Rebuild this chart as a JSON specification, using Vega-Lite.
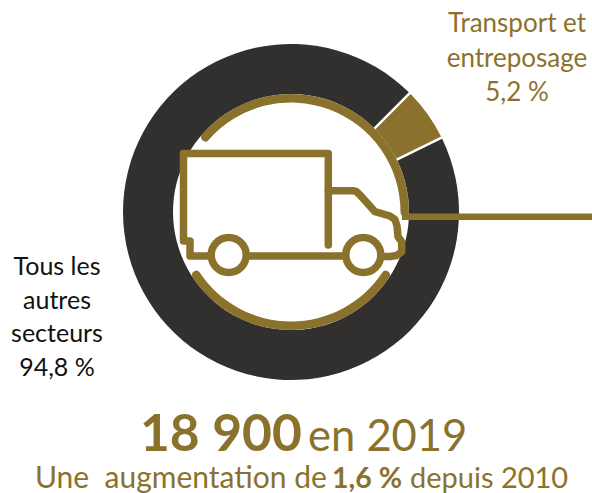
{
"$schema":"https://vega.github.io/schema/vega-lite/v6.json",
"width":592,"height":493,"padding":0,"autosize":{"type":"none"},
"background":"white",
"config":{"view":{"stroke":null},"text":{"font":"Lato"}},
"resolve":{"scale":{"theta":"independent"}},
"layer":[
{"data":{"values":[{"secteur":"Transport et entreposage","part":5.2},{"secteur":"Tous les autres secteurs","part":94.8}]},
 "mark":{"type":"arc","innerRadius":118,"outerRadius":168,"padAngle":0.012},
 "encoding":{"x":{"datum":291,"type":"quantitative","scale":{"domain":[0,592],"nice":false,"zero":false},"axis":null},
  "y":{"datum":212,"type":"quantitative","scale":{"domain":[493,0],"nice":false,"zero":false},"axis":null},
  "theta":{"field":"part","type":"quantitative","stack":true,"scale":{"domain":[0,100],"range":[0.785,7.068]}},
  "order":{"field":"part","sort":"ascending"},
  "color":{"field":"secteur","type":"nominal","legend":null,"scale":{"domain":["Transport et entreposage","Tous les autres secteurs"],"range":["#8B722C","#32302E"]}}}},
{"data":{"values":[{"from":-51,"to":92},{"from":121.5,"to":238.5}]},
 "mark":{"type":"arc","innerRadius":109.5,"outerRadius":118,"cornerRadius":4,"color":"#8B722C"},
 "encoding":{"x":{"datum":291},"y":{"datum":212},
  "theta":{"field":"from","type":"quantitative","stack":null,"scale":{"domain":[0,360],"range":[0,6.28319]}},
  "theta2":{"field":"to"}}},
{"data":{"values":[{"x":402,"y":216.7},{"x":592,"y":216.7}]},
 "mark":{"type":"line","color":"#8B722C","strokeWidth":6.5,"strokeCap":"butt"},
 "encoding":{"x":{"field":"x","type":"quantitative"},"y":{"field":"y","type":"quantitative"}}},
{"data":{"values":[
 {"part":"caisse","i":1,"x":328.3,"y":245},{"part":"caisse","i":2,"x":328.3,"y":153.5},{"part":"caisse","i":3,"x":183.5,"y":153.5},{"part":"caisse","i":4,"x":183.5,"y":241},{"part":"caisse","i":5,"x":190,"y":241},{"part":"caisse","i":6,"x":190,"y":256},{"part":"caisse","i":7,"x":363,"y":256},
 {"part":"cabine","i":1,"x":328.3,"y":190.7},{"part":"cabine","i":2,"x":353,"y":190.7},{"part":"cabine","i":3,"x":356.5,"y":191.7},{"part":"cabine","i":4,"x":360,"y":195},{"part":"cabine","i":5,"x":375,"y":211.7},{"part":"cabine","i":6,"x":390,"y":216},{"part":"cabine","i":7,"x":395,"y":219.5},{"part":"cabine","i":8,"x":397,"y":226},{"part":"cabine","i":9,"x":398,"y":236.7},{"part":"cabine","i":10,"x":401.7,"y":241.7},{"part":"cabine","i":11,"x":401.7,"y":251.7},{"part":"cabine","i":12,"x":396.7,"y":255.5},{"part":"cabine","i":13,"x":390,"y":256.5},{"part":"cabine","i":14,"x":375,"y":256.5}
 ]},
 "mark":{"type":"line","color":"#8B722C","strokeWidth":7.5,"strokeCap":"round","strokeJoin":"round"},
 "encoding":{"x":{"field":"x","type":"quantitative"},"y":{"field":"y","type":"quantitative"},"detail":{"field":"part"},"order":{"field":"i"}}},
{"data":{"values":[{"x":228.7,"y":255},{"x":363.3,"y":255}]},
 "mark":{"type":"point","filled":false,"fill":"white","fillOpacity":1,"stroke":"#8B722C","strokeWidth":7.5,"size":1225,"opacity":1},
 "encoding":{"x":{"field":"x","type":"quantitative"},"y":{"field":"y","type":"quantitative"}}},
{"data":{"values":[{"label":"Transport et\nentreposage\n5,2 %"}]},
 "mark":{"type":"text","lineBreak":"\n","lineHeight":34.5,"fontSize":26,"align":"center","baseline":"alphabetic","color":"#8B722C"},
 "encoding":{"x":{"datum":517},"y":{"datum":32},"text":{"field":"label"}}},
{"data":{"values":[{"label":"Tous les\nautres\nsecteurs\n94,8 %"}]},
 "mark":{"type":"text","lineBreak":"\n","lineHeight":33.5,"fontSize":25,"align":"center","baseline":"alphabetic","color":"#111111"},
 "encoding":{"x":{"datum":57},"y":{"datum":275},"text":{"field":"label"}}},
{"data":{"values":[{"label":"18 900"}]},
 "mark":{"type":"text","fontSize":51.5,"fontWeight":"bold","align":"left","baseline":"alphabetic","color":"#8B722C"},
 "encoding":{"x":{"datum":140},"y":{"datum":451},"text":{"field":"label"}}},
{"data":{"values":[{"label":"en 2019"}]},
 "mark":{"type":"text","fontSize":43.5,"align":"left","baseline":"alphabetic","color":"#8B722C"},
 "encoding":{"x":{"datum":308},"y":{"datum":451},"text":{"field":"label"}}},
{"data":{"values":[{"label":"Une\u00a0 augmentation de"}]},
 "mark":{"type":"text","fontSize":30,"align":"left","baseline":"alphabetic","color":"#8B722C"},
 "encoding":{"x":{"datum":35},"y":{"datum":488},"text":{"field":"label"}}},
{"data":{"values":[{"label":"1,6 %"}]},
 "mark":{"type":"text","fontSize":28.5,"fontWeight":"bold","align":"left","baseline":"alphabetic","color":"#8B722C"},
 "encoding":{"x":{"datum":332},"y":{"datum":488},"text":{"field":"label"}}},
{"data":{"values":[{"label":"depuis 2010"}]},
 "mark":{"type":"text","fontSize":29,"align":"left","baseline":"alphabetic","color":"#8B722C"},
 "encoding":{"x":{"datum":410},"y":{"datum":488},"text":{"field":"label"}}}
]}
